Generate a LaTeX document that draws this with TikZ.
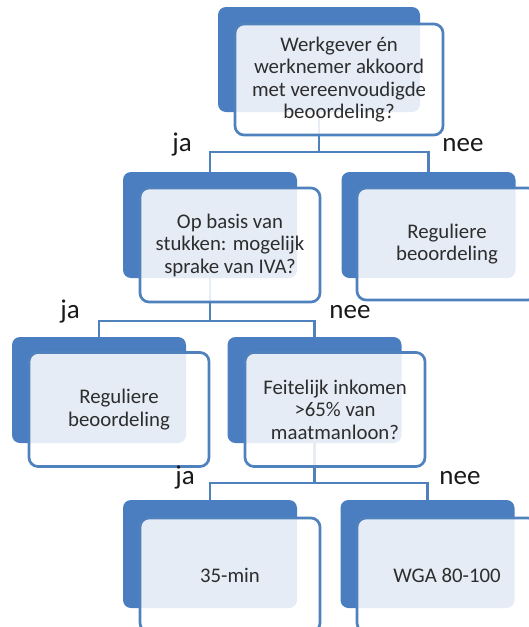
\documentclass[tikz,border=0pt]{standalone}
\usepackage{fontspec}
\setmainfont{Carlito}
\definecolor{smblue}{RGB}{74,126,193}
\definecolor{smline}{RGB}{79,129,189}
\definecolor{smtext}{RGB}{45,45,45}
\begin{document}
\begin{tikzpicture}[x=1pt,y=-1pt,
  backbox/.style={fill=smblue, draw=none, rounded corners=8pt, minimum width=174pt, minimum height=106pt, inner sep=0pt},
  frontbox/.style={fill=white, fill opacity=0.86, text opacity=1, draw=smline, line width=2.7pt, rounded corners=9pt, minimum width=180pt, minimum height=114pt, inner sep=0pt, align=center, text=smtext, font=\fontsize{20.8}{22.5}\selectfont},
  conn/.style={draw=smline, line width=2.8pt},
  lbl/.style={font=\fontsize{27}{29}\selectfont, text=black!90, inner sep=0pt}
]
\useasboundingbox (0,0) rectangle (529,627);
\clip (0,0) rectangle (529,627);

% back boxes
\node[backbox, minimum width=202pt, minimum height=105pt] (b0) at (319,59.5) {};
\node[backbox] (b1) at (210,225) {};
\node[backbox] (b2) at (428.5,225) {};
\node[backbox] (b3) at (99,390) {};
\node[backbox] (b4) at (314.5,390) {};
\node[backbox, minimum height=108pt] (b5) at (210,554) {};
\node[backbox, minimum height=108pt] (b6) at (427.5,554) {};

% connectors
\coordinate (s0) at (319,152);
\draw[conn] (b0.center) -- (s0);
\draw[conn] (s0) -| (b1.north);
\draw[conn] (s0) -| (b2.north);
\coordinate (s1) at (210,321);
\draw[conn] (b1.center) -- (s1);
\draw[conn] (s1) -| (b3.north);
\draw[conn] (s1) -| (b4.north);
\coordinate (s2) at (314.5,483);
\draw[conn] (b4.center) -- (s2);
\draw[conn] (s2) -| (b5.north);
\draw[conn] (s2) -| (b6.north);

% front boxes
\node[frontbox, minimum width=208pt, minimum height=111pt] (f0) at (339,79.5) {Werkgever én\\werknemer akkoord\\met vereenvoudigde\\beoordeling?};
\node[frontbox] (f1) at (230,245) {Op basis van\\stukken: mogelijk\\sprake van IVA?};
\node[frontbox, minimum height=112pt] (f2) at (447,244) {Reguliere\\beoordeling};
\node[frontbox] (f3) at (119,409.5) {Reguliere\\beoordeling};
\node[frontbox] (f4) at (335,409.5) {Feitelijk inkomen\\>65\% van\\maatmanloon?};
\node[frontbox] (f5) at (230,575) {35-min};
\node[frontbox] (f6) at (447,575) {WGA 80-100};

% labels
\node[lbl] (l1) at (182,145) {ja};
\node[lbl] (l2) at (463,145) {nee};
\node[lbl] (l3) at (70,312) {ja};
\node[lbl] (l4) at (350,312) {nee};
\node[lbl] (l5) at (185,478) {ja};
\node[lbl] (l6) at (460,478) {nee};
\end{tikzpicture}
\end{document}
